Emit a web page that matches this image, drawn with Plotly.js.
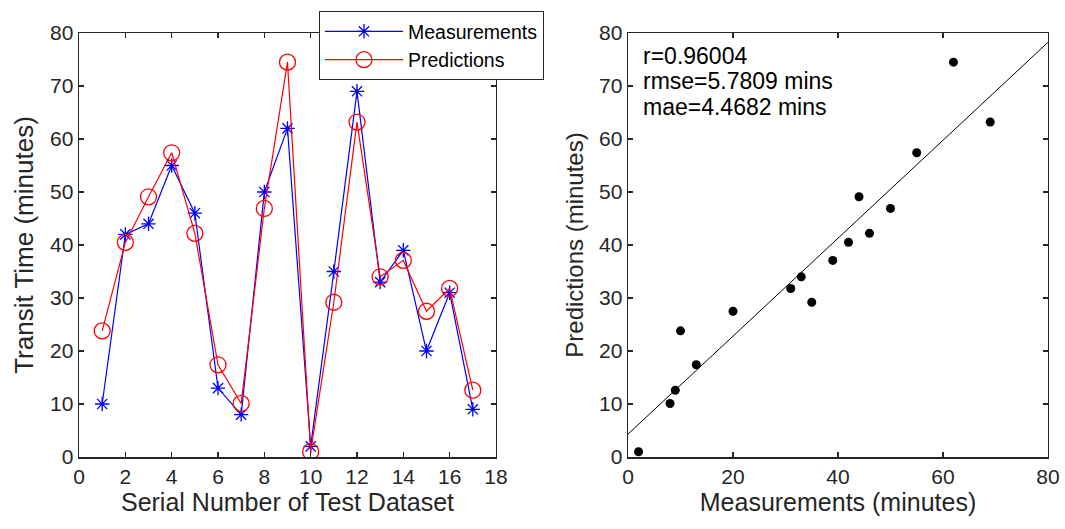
<!DOCTYPE html>
<html><head><meta charset="utf-8">
<script src="https://cdn.plot.ly/plotly-3.0.1.min.js"></script>
<style>body{margin:0;background:#fff}#c{width:1065px;height:529px}</style>
</head><body><div id="c"></div>
<script>
const serial = [1,2,3,4,5,6,7,8,9,10,11,12,13,14,15,16,17];
const measurements = [10,42,44,55,46,13,8,50,62,2,35,69,33,39,20,31,9];
const predictions = [23.8,40.5,49.1,57.4,42.2,17.4,10.1,46.9,74.5,1.0,29.2,63.2,34.0,37.1,27.5,31.8,12.6];
const statsText = ["r=0.96004","rmse=5.7809 mins","mae=4.4682 mins"];
const fitRange = [0,80];

// least squares fit of predictions on measurements
const n = measurements.length;
const mx = measurements.reduce((a,b)=>a+b,0)/n;
const my = predictions.reduce((a,b)=>a+b,0)/n;
let sxy=0,sxx=0;
for(let i=0;i<n;i++){sxy+=(measurements[i]-mx)*(predictions[i]-my);sxx+=(measurements[i]-mx)**2;}
const slope = sxy/sxx, icpt = my-slope*mx;

const FONT = 'Liberation Sans, Arial, sans-serif';
const AX = '#262626';
const traces = [
 {x:serial,y:measurements,type:'scatter',mode:'lines+markers',name:'Measurements',
  line:{color:'#0000ff',width:1.2},marker:{symbol:'asterisk-open',size:12,color:'#0000ff',line:{color:'#0000ff',width:1.3}},xaxis:'x',yaxis:'y'},
 {x:serial,y:predictions,type:'scatter',mode:'lines+markers',name:'Predictions',
  line:{color:'#ff0000',width:1.2},marker:{symbol:'circle-open',size:16,color:'#ff0000',line:{color:'#ff0000',width:1.3}},xaxis:'x',yaxis:'y'},
 {x:measurements,y:predictions,type:'scatter',mode:'markers',showlegend:false,
  marker:{symbol:'circle',size:9,color:'#000'},xaxis:'x2',yaxis:'y2'},
 {x:fitRange,y:fitRange.map(v=>icpt+slope*v),type:'scatter',mode:'lines',showlegend:false,
  line:{color:'#000',width:1},xaxis:'x2',yaxis:'y2'}
];
function ax(extra){return Object.assign({showgrid:false,zeroline:false,showline:true,linecolor:AX,linewidth:1.5,
  mirror:'ticks',ticks:'inside',ticklen:5,tickcolor:AX,tickwidth:1.2,
  tickfont:{family:FONT,size:21,color:AX}},extra);}
const layout = {
 width:1065,height:529,margin:{l:0,r:0,t:0,b:0},paper_bgcolor:'#fff',plot_bgcolor:'#fff',
 font:{family:FONT},
 xaxis:ax({domain:[0.0742,0.4657],range:[0,18],tickvals:[0,2,4,6,8,10,12,14,16,18],anchor:'y',
   title:{text:'Serial Number of Test Dataset',font:{family:FONT,size:25,color:AX},standoff:4}}),
 yaxis:ax({domain:[0.1361,0.9376],range:[0,80],tickvals:[0,10,20,30,40,50,60,70,80],anchor:'x',
   title:{text:'Transit Time (minutes)',font:{family:FONT,size:26,color:AX},standoff:9}}),
 xaxis2:ax({domain:[0.5897,0.9840],range:[0,80],tickvals:[0,20,40,60,80],anchor:'y2',
   title:{text:'Measurements (minutes)',font:{family:FONT,size:25,color:AX},standoff:4}}),
 yaxis2:ax({domain:[0.1361,0.9376],range:[0,80],tickvals:[0,10,20,30,40,50,60,70,80],anchor:'x2',
   title:{text:'Predictions (minutes)',font:{family:FONT,size:24,color:AX},standoff:8}}),
 legend:{x:0.2995,y:0.979,xanchor:'left',yanchor:'top',bgcolor:'#fff',bordercolor:'#262626',borderwidth:1,
   font:{family:FONT,size:19.5,color:'#000'},itemwidth:78,tracegroupgap:0},
 annotations:statsText.map((t,i)=>({xref:'x2',yref:'y2',x:2.5,y:75.7-i*4.85,text:t,showarrow:false,
   xanchor:'left',yanchor:'middle',font:{family:FONT,size:23,color:'#000'}}))
};
Plotly.newPlot('c',traces,layout,{staticPlot:true});
</script></body></html>
